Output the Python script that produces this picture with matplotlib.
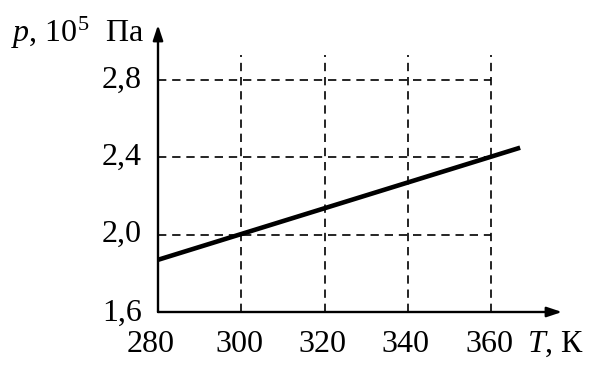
import matplotlib.pyplot as plt

plt.rcParams['font.family'] = ['Liberation Serif', 'DejaVu Serif']
plt.rcParams['mathtext.fontset'] = 'custom'
plt.rcParams['mathtext.rm'] = 'Liberation Serif'
plt.rcParams['mathtext.it'] = 'Liberation Serif:italic'

# data
T = [280, 367]
p = [1.87, 2.45]
x_ticks = [280, 300, 320, 340, 360]
x_labels = ['280', '300', '320', '340', '360']
y_ticks = [1.6, 2.0, 2.4, 2.8]
y_labels = ['1,6', '2,0', '2,4', '2,8']

fig = plt.figure(figsize=(5.95, 3.71), dpi=100)
W, H = 595, 371
ax = fig.add_axes([158 / W, 59 / H, (562 - 158) / W, (312 - 25) / H])
xmax = 280 + (562 - 158) / 4.1625
ymax = 1.6 + (312 - 25) / 193.3
ax.set_xlim(280, xmax)
ax.set_ylim(1.6, ymax)
for s in ax.spines.values():
    s.set_visible(False)
ax.set_xticks([])
ax.set_yticks([])

# dashed grid
dash = dict(color='black', lw=1.2, linestyles=(0, (5, 3.5)))
ax.vlines(x_ticks[1:], 1.6, 2.93, **dash)
ax.hlines(y_ticks[1:], 280, 360, **dash)

# axes with arrows
arrow = dict(arrowstyle='-|>,head_length=0.9,head_width=0.3', lw=1.7, color='black',
             shrinkA=0, shrinkB=0)
ax.annotate('', xy=(xmax, 1.6), xytext=(280, 1.6), arrowprops=arrow, annotation_clip=False)
ax.annotate('', xy=(280, ymax), xytext=(280, 1.6), arrowprops=arrow, annotation_clip=False)

# line
ax.plot(T, p, color='black', lw=3.3, solid_capstyle='butt')

fs = 23
for x, lab in zip(x_ticks, x_labels):
    dx = -7 if x == 280 else -2
    ax.annotate(lab, xy=(x, 1.6), xytext=(dx, -33), textcoords='offset pixels',
                ha='center', va='center', fontsize=fs, annotation_clip=False)
for y, lab in zip(y_ticks, y_labels):
    dy = 0 if y > 1.6 else -1
    ax.annotate(lab, xy=(280, y), xytext=(-16, dy), textcoords='offset pixels',
                ha='right', va='center', fontsize=fs, annotation_clip=False)

fig.text(527 / W, 1 - 344 / H, r'$T$, К', ha='left', va='center', fontsize=fs)
fig.text(11 / W, 1 - 33 / H, r'$p$, 10$^{5}$  Па', ha='left', va='center', fontsize=fs)

fig.savefig('out.png', dpi=100)
plt.close(fig)
